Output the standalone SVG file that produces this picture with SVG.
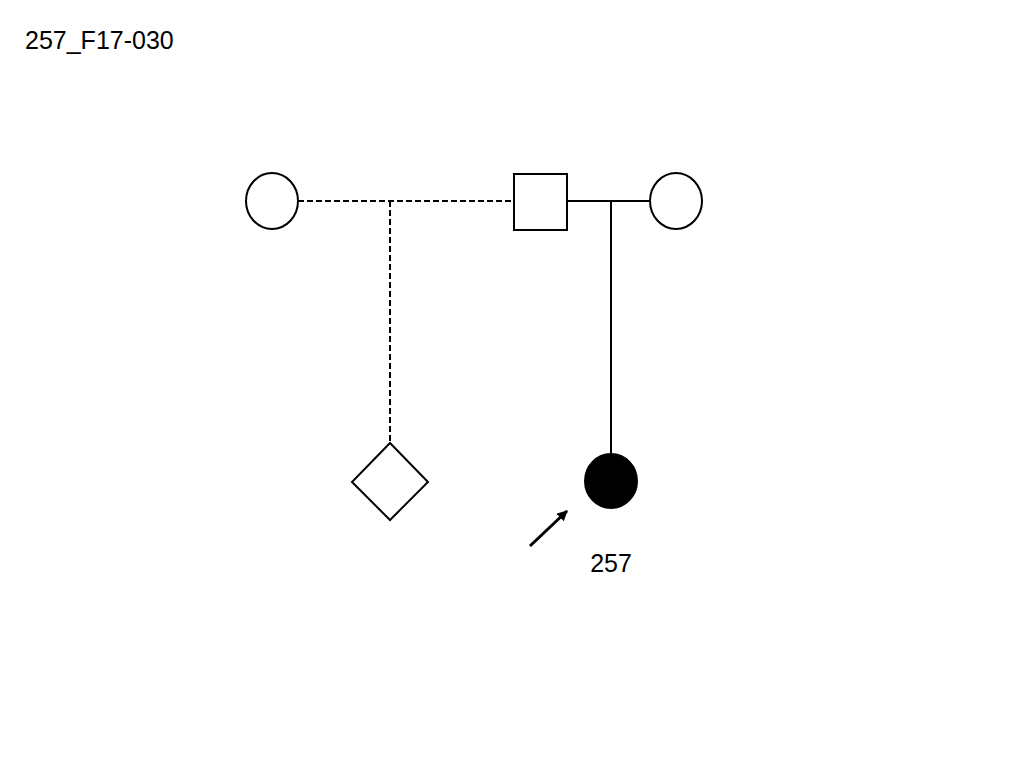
<svg xmlns="http://www.w3.org/2000/svg" width="1024" height="768" viewBox="0 0 1024 768">
<defs>
<style>
.s{fill:#fff;stroke:#000;stroke-width:2}
.f{fill:#000;stroke:#000;stroke-width:2}
.l{fill:none;stroke:#000;stroke-width:2}
.a{fill:none;stroke:#000;stroke-width:3}
.d{fill:none;stroke:#000;stroke-width:2;stroke-dasharray:6,3}
.t{font-family:"Liberation Sans",Arial,sans-serif;font-size:25px;fill:#000}
</style>
<marker id="ah" viewBox="0 0 10 10" refX="9" refY="5" markerWidth="3.5" markerHeight="3.5" orient="auto">
<path d="M0,0L10,5L0,10z" fill="#000"/>
</marker>
</defs>
<rect width="1024" height="768" fill="#fff"/>
<text class="t" x="25" y="49">257_F17-030</text>
<g id="connectors">
<line class="d" x1="298" y1="201" x2="514" y2="201"/>
<line class="d" x1="390" y1="201" x2="390" y2="443"/>
<line class="l" x1="567" y1="201" x2="650" y2="201"/>
<line class="l" x1="611" y1="201" x2="611" y2="454"/>
</g>
<g id="n1"><ellipse class="s" cx="272" cy="201" rx="26" ry="28"/></g>
<g id="n2"><rect class="s" x="514" y="174" width="53" height="56"/></g>
<g id="n3"><ellipse class="s" cx="676" cy="201" rx="26" ry="28"/></g>
<g id="n4"><polygon class="s" points="390,443 428,482 390,520 352,482"/></g>
<g id="n5"><ellipse class="f" cx="611" cy="481" rx="26" ry="27"/>
<line class="a" x1="530" y1="546" x2="567" y2="511" marker-end="url(#ah)"/>
<text class="t" x="611" y="572" text-anchor="middle">257</text></g>
</svg>
